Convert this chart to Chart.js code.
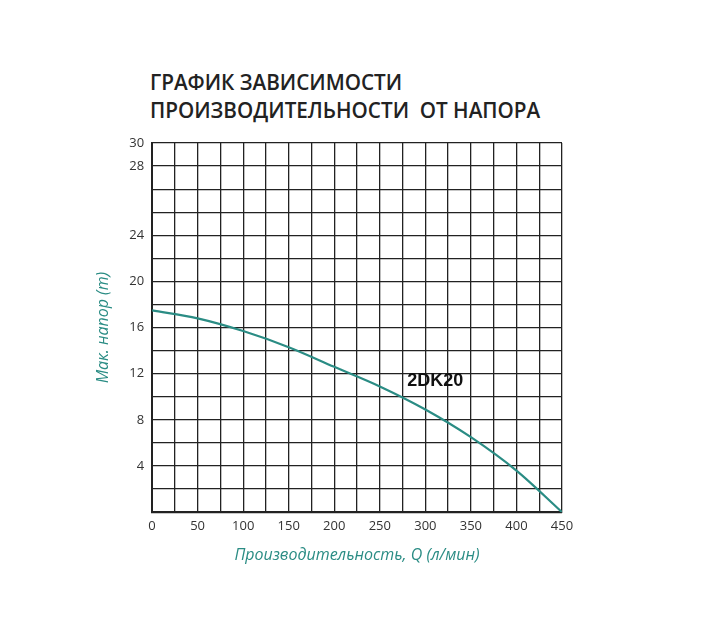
<!DOCTYPE html>
<html><head><meta charset="utf-8">
<script src="https://cdn.jsdelivr.net/npm/chart.js@4/dist/chart.umd.min.js"></script>
<style>
html,body{margin:0;padding:0;background:#fff;}
#wrap{position:relative;width:706px;height:635px;}
#ttl{position:absolute;left:150px;top:68px;font-family:"Open Sans",sans-serif;font-weight:600;font-size:20.7px;line-height:28px;color:#222;}
canvas{position:absolute;left:0;top:0;}
</style></head><body>
<div id="wrap"><div id="ttl">ГРАФИК ЗАВИСИМОСТИ<br>ПРОИЗВОДИТЕЛЬНОСТИ&nbsp; ОТ НАПОРА</div>
<canvas id="c" width="706" height="635"></canvas></div>
<script>
const flowQ = [0, 50, 100, 150, 200, 250, 300, 350, 400, 450];
const headH = [17.5, 16.8, 15.7, 14.3, 12.6, 10.9, 8.9, 6.5, 3.6, 0];
const yTickLabels = {4:'4',8:'8',12:'12',16:'16',20:'20',24:'24',30:'28',32:'30'};
const xTickStep = 50;
const seriesLabel = '2DK20';
const teal = '#2a8c84';

const labelPlugin = {
  id:'lbl',
  afterDatasetsDraw(ch){
    const {ctx,scales:{x,y}} = ch;
    ctx.save();
    ctx.font = 'bold 18px "Liberation Sans", Arial, sans-serif';
    ctx.fillStyle = '#111';
    ctx.textBaseline = 'middle';
    ctx.fillText(seriesLabel, x.getPixelForValue(280), y.getPixelForValue(11.4));
    ctx.restore();
  }
};

new Chart(document.getElementById('c'), {
  type:'line',
  data:{datasets:[{data:flowQ.map((q,i)=>({x:q,y:headH[i]})),borderColor:teal,borderWidth:2.2,pointRadius:0,cubicInterpolationMode:'monotone'}]},
  options:{
    responsive:false,animation:false,
    layout:{padding:{left:90,top:143,right:144,bottom:66}},
    plugins:{legend:{display:false},tooltip:{enabled:false}},
    scales:{
      x:{type:'linear',min:0,max:450,
        grid:{color:'#222',lineWidth:1.3,drawTicks:false},
        border:{color:'#222',width:2},
        ticks:{stepSize:25,autoSkip:false,maxRotation:0,minRotation:0,padding:6,color:'#333',font:{family:'"Open Sans", sans-serif',size:13},
          callback:v=> v%xTickStep===0 ? String(v) : ''},
        title:{display:true,text:'Производительность, Q (л/мин)',color:teal,font:{family:'"Open Sans", sans-serif',size:16,style:'italic'},padding:{top:6}}
      },
      y:{type:'linear',min:0,max:32,
        grid:{color:'#222',lineWidth:1.3,drawTicks:false},
        border:{color:'#222',width:2},
        ticks:{stepSize:2,autoSkip:false,padding:8,color:'#333',font:{family:'"Open Sans", sans-serif',size:13},
          callback:v=> yTickLabels[v] || ''},
        title:{display:true,text:'Мак. напор (m)',color:teal,font:{family:'"Open Sans", sans-serif',size:16,style:'italic'},padding:{bottom:8}}
      }
    }
  },
  plugins:[labelPlugin]
});
</script></body></html>
